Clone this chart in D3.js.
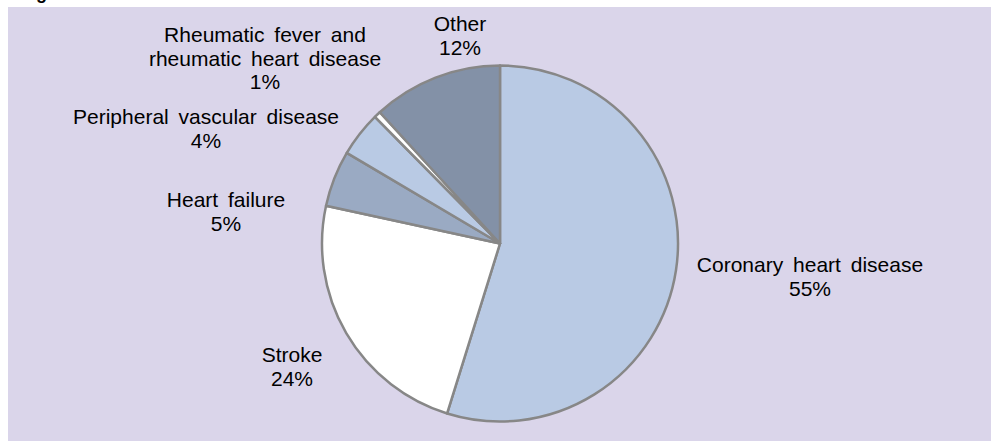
<!DOCTYPE html>
<html><head><meta charset="utf-8">
<script src="https://cdn.jsdelivr.net/npm/d3@7"></script>
<style>html,body{margin:0;padding:0;background:#fff;}svg{display:block;}</style>
</head><body>
<svg id="chart" width="991" height="441"></svg>
<script>
const categories = ["Coronary heart disease","Stroke","Heart failure","Peripheral vascular disease","Rheumatic fever and rheumatic heart disease","Other"];
const values = [54.8, 23.6, 5.1, 4.1, 0.6, 11.8];
const labelLines = [["Coronary heart disease"],["Stroke"],["Heart failure"],["Peripheral vascular disease"],["Rheumatic fever and","rheumatic heart disease"],["Other"]];
const pctLabels = ["55%","24%","5%","4%","1%","12%"];
const colors = ["#b9cae4","#ffffff","#9aaac3","#b9cae4","#ffffff","#8391a7"];
const labelPos = [[810,272],[292,362],[226,207],[206,124],[265,42],[460,31]];

const svg = d3.select("#chart");
svg.append("rect").attr("x",8).attr("y",7).attr("width",983).attr("height",434).attr("fill","#dad5ea");
svg.append("text").attr("x",20).attr("y",-1.5).attr("font-family","Liberation Sans, Arial, sans-serif").attr("font-size",18).attr("font-weight","bold").attr("fill","#000").text("Fig");

const cx = 500, cy = 243.5, R = 178;
const pie = d3.pie().sort(null).value(d=>d)(values);
const arc = d3.arc().innerRadius(0).outerRadius(R);
const g = svg.append("g").attr("transform",`translate(${cx},${cy})`);
g.selectAll("path").data(pie).join("path")
  .attr("d",arc)
  .attr("fill",(d,i)=>colors[i])
  .attr("stroke","#878787").attr("stroke-width",2.5).attr("stroke-linejoin","round");

const lh = 23.5;
const lab = svg.append("g").attr("font-family","Liberation Sans, Arial, sans-serif").attr("font-size",21).attr("fill","#000").attr("text-anchor","middle");
categories.forEach((c,i)=>{
  const [x,y] = labelPos[i];
  const lines = labelLines[i].concat([pctLabels[i]]);
  lines.forEach((t,j)=>{
    lab.append("text").attr("x",x).attr("y",y+j*lh).attr("word-spacing","4px").text(t);
  });
});
</script>
</body></html>
